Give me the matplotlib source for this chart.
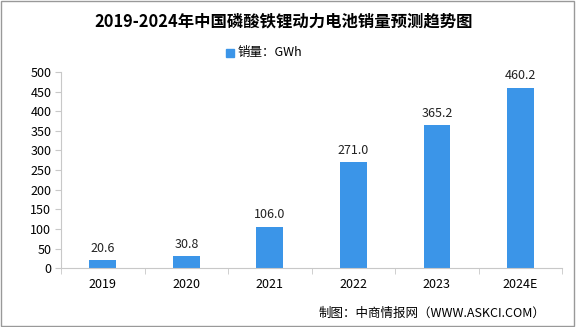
import numpy as np
import matplotlib.pyplot as plt
from matplotlib.patches import Rectangle

plt.rcParams['font.family'] = ['Noto Sans CJK SC', 'DejaVu Sans']

years = ['2019', '2020', '2021', '2022', '2023', '2024E']
sales = [20.6, 30.8, 106.0, 271.0, 365.2, 460.2]   # GWh

BAR_COLOR = '#3b95e8'
AXIS_COLOR = '#c8c8c8'

fig = plt.figure(figsize=(5.76, 3.27), dpi=100)
ax = fig.add_axes([0.106, 0.180, 0.870, 0.600])

x = np.arange(len(years))
ax.bar(x, sales, width=0.32, color=BAR_COLOR, zorder=2)
for xi, v in zip(x, sales):
    ax.text(xi, v + 13, f'{v:.1f}', ha='center', va='bottom', fontsize=9, color='#222222')

ax.set_xlim(-0.5, len(years) - 0.5)
ax.set_ylim(0, 500)
ax.set_yticks(np.arange(0, 501, 50))
ax.set_xticks(x)
ax.set_xticklabels(years)
ax.set_xticks(np.arange(-0.5, len(years), 1), minor=True)
ax.tick_params(axis='x', which='major', length=0, pad=7, labelsize=9)
ax.tick_params(axis='x', which='minor', length=4, color=AXIS_COLOR)
ax.tick_params(axis='y', length=4, color=AXIS_COLOR, labelsize=9, pad=3)

for s in ['top', 'right']:
    ax.spines[s].set_visible(False)
for s in ['left', 'bottom']:
    ax.spines[s].set_color(AXIS_COLOR)

fig.text(0.493, 0.935, '2019-2024年中国磷酸铁锂动力电池销量预测趋势图',
         ha='center', va='center', fontsize=11.8, fontweight='bold')

# legend
fig.patches.append(Rectangle((0.393, 0.825), 0.014, 0.025, transform=fig.transFigure,
                             color=BAR_COLOR))
fig.text(0.412, 0.838, '销量：GWh', ha='left', va='center', fontsize=9)

fig.text(0.947, 0.043, '制图：中商情报网（WWW.ASKCI.COM）', ha='right', va='center',
         fontsize=9)

# outer frame
fig.patches.append(Rectangle((0.002, 0.003), 0.995, 0.994, transform=fig.transFigure,
                             fill=False, edgecolor='#999999', lw=1))

fig.savefig('out.png', dpi=100)
